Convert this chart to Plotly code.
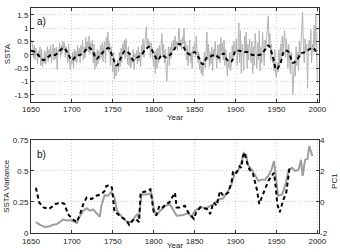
import plotly.graph_objects as go

# ---------- panel a: annual SSTA (1650-2000) ----------
years_a = list(range(1650, 2001))
ssta = [
    0.5, 0.55, 0.3, -0.1, 0.35, -0.2, 0.25, 0.1, -0.35, 0.15,
    -0.1, 0.3, -0.4, 0.2, -0.45, -0.1, -0.3, 0.15, -0.35, 0.05,
    0.3, -0.25, 0.2, -0.1, 0.35, -0.3, 0.1, 0.4, -0.2, 0.25,
    -0.15, 0.3, -0.55, 0.2, 0.1, 0.45, -0.1, 0.35, 0.05, 0.5,
    0.2, 0.45, -0.1, 0.3, 0.15, -0.3, 0.4, -0.45, -0.55, -0.2,
    -0.35, 0.1, -0.5, 0.2, -0.25, 0.15, -0.3, 0.35, 0.0, 0.25,
    -0.3, 0.35, 0.05, 0.55, -0.2, 0.3, -0.1, 0.65, 0.2, 0.5,
    0.1, 0.7, 0.05, 0.45, 0.2, 0.55, -0.3, 0.4, -0.55, 0.1,
    -0.45, 0.2, -0.35, 0.15, -0.2, 0.35, -0.1, 0.45, -0.25, 0.3,
    0.5, -0.3, 0.65, 0.2, 0.85, 0.1, 0.45, -0.4, 0.3, -0.2,
    -0.65, 0.1, -0.9, -0.3, -0.8, -0.5, -0.2, -0.65, 0.1, -0.45,
    0.25, -0.3, 0.4, 0.1, 0.55, -0.15, 0.6, 0.2, -0.35, 0.3,
    -0.4, 0.1, -0.5, -0.15, -0.3, 0.2, -0.55, 0.05, -0.2, 0.15,
    -0.35, 0.3, -0.25, 0.1, -0.45, 0.35, 0.0, 0.6, -0.1, 0.4,
    0.75, 1.05, 0.2, 0.6, 0.3, 0.5, -0.1, 0.45, 0.1, -0.2,
    -0.45, 0.1, -0.7, 0.2, -0.5, 0.25, -0.3, 0.35, -0.15, 0.3,
    0.8, -0.1, 0.4, -0.3, 0.2, -0.5, -1.0, -0.2, 0.3, -0.4,
    0.3, -0.15, 0.45, 0.1, 0.55, 0.2, 0.7, 0.3, 0.5, 0.15,
    0.6, 1.0, 0.3, 0.55, 0.2, 0.65, 0.4, 1.0, 0.25, 0.5,
    -0.2, 0.35, -0.4, 0.25, 0.55, -0.3, 0.1, -0.5, 0.3, 0.2,
    0.45, -0.1, 0.7, 0.2, -0.3, 0.1, -0.55, -0.2, -0.7, -0.4,
    -0.8, -0.3, 0.1, -0.5, 0.2, 0.85, -0.2, 0.4, -0.45, 0.1,
    -0.35, 0.3, -0.6, 0.2, -0.1, 0.5, 0.0, -0.5, 0.35, -0.2,
    0.4, -0.3, 0.65, 0.1, 0.45, -0.2, 0.55, -0.4, 0.2, -0.6,
    -0.8, -0.2, -0.5, 0.1, -0.6, -0.3, 0.35, -0.1, 0.5, 0.3,
    0.1, 0.6, -0.4, 0.3, 1.2, -0.3, 0.9, -0.7, 0.4, 0.2,
    -0.6, 0.7, 0.1, 0.85, -0.5, 0.4, -0.2, 0.6, 0.1, -0.3,
    0.5, -0.7, 0.3, -0.4, 0.8, 0.1, -0.5, 0.45, -0.2, 0.9,
    -0.6, 0.3, -0.3, 0.85, 0.1, -0.4, 0.55, 0.2, 0.6, 1.0,
    1.45, 0.3, 0.8, -0.2, 0.4, -0.3, -0.1, -0.6, 0.2, -0.7,
    -0.85, -0.3, -0.65, 0.2, -0.4, 0.4, -0.2, 0.7, 0.1, 0.5,
    0.9, -0.1, 0.6, 0.3, -0.5, 0.4, -0.2, -0.7, 0.1, -0.4,
    -1.5, -0.6, -0.2, -0.8, 0.3, -0.4, 0.1, -0.6, 0.5, -0.1,
    0.4, 0.9, 1.6, 0.2, -0.3, 0.6, 0.1, 0.4, -1.25, 0.3,
    0.55, 0.2, 0.95, -0.3, 0.4, 0.1, 1.1, 0.3, 1.55, 0.2,
    -0.95,
]

# low-pass filtered SSTA (every 5 years)
years_smooth = list(range(1650, 2001, 5))
ssta_smooth = [
    0.15, 0.1, -0.05, -0.2, -0.1, 0.0, 0.0, 0.15, 0.25, 0.05,
    -0.2, -0.05, 0.0, 0.1, 0.28, 0.15, -0.15, 0.0, 0.15, 0.25,
    -0.1, -0.4, -0.1, 0.15, 0.05, -0.2, -0.1, 0.0, 0.2, 0.3,
    0.05, -0.2, 0.0, -0.1, 0.0, 0.2, 0.4, 0.35, 0.1, 0.0,
    0.1, -0.1, -0.35, -0.1, -0.05, 0.0, -0.1, 0.05, -0.2, -0.25,
    0.15, 0.15, 0.1, 0.1, 0.0, 0.0, 0.0, 0.15, 0.35, 0.0,
    -0.55, -0.3, 0.15, 0.1, -0.3, -0.2, 0.05, 0.1, 0.2, 0.25,
    0.0,
]

# ---------- panel b: running SSTA variance and PC1 ----------
years_var = [1656, 1661, 1667, 1673, 1677, 1681, 1685, 1689, 1694, 1698,
             1702, 1706, 1710, 1714, 1718, 1722, 1726, 1730, 1734, 1736,
             1740, 1744, 1748, 1752, 1755, 1758, 1763, 1767, 1773, 1777,
             1780, 1782, 1785, 1791, 1797, 1800, 1803, 1808, 1814, 1820,
             1828, 1836, 1842, 1846, 1850, 1857, 1863, 1867, 1873, 1879,
             1885, 1891, 1895, 1899, 1903, 1907, 1910, 1913, 1915, 1920,
             1924, 1928, 1932, 1936, 1940, 1944, 1947, 1950, 1952, 1957,
             1961, 1965, 1969, 1973, 1977, 1980, 1982, 1985, 1988, 1990,
             1992, 1994]
ssta_var = [0.087, 0.066, 0.048, 0.055, 0.066, 0.07, 0.087, 0.108, 0.1, 0.105,
            0.095, 0.08, 0.14, 0.18, 0.2, 0.18, 0.19, 0.16, 0.13, 0.22,
            0.305, 0.30, 0.33, 0.29, 0.18, 0.155, 0.115, 0.093, 0.088, 0.13,
            0.15, 0.115, 0.31, 0.31, 0.32, 0.2, 0.14, 0.18, 0.22, 0.23,
            0.14, 0.145, 0.16, 0.13, 0.175, 0.21, 0.2, 0.21, 0.23, 0.27,
            0.28, 0.34, 0.39, 0.485, 0.5, 0.565, 0.645, 0.63, 0.55, 0.51,
            0.47, 0.42, 0.43, 0.43, 0.46, 0.51, 0.58, 0.39, 0.3, 0.31,
            0.39, 0.51, 0.525, 0.5, 0.51, 0.59, 0.46, 0.59, 0.6, 0.70,
            0.66, 0.62]

years_pc1 = [1656, 1660, 1665, 1672, 1680, 1687, 1691, 1695, 1700, 1706,
             1710, 1714, 1718, 1724, 1730, 1736, 1740, 1742, 1746, 1749,
             1752, 1756, 1760, 1764, 1768, 1770, 1774, 1778, 1782, 1784,
             1790, 1796, 1800, 1803, 1807, 1811, 1815, 1819, 1820, 1826,
             1828, 1833, 1838, 1842, 1849, 1852, 1857, 1865, 1869, 1873,
             1877, 1881, 1885, 1891, 1895, 1897, 1901, 1905, 1907, 1909,
             1911, 1913, 1917, 1921, 1926, 1929, 1932, 1936, 1940, 1944,
             1947, 1949, 1951, 1954, 1958, 1962, 1966, 1969]
pc1 = [0.92, -0.03, -0.35, -0.45, -0.13, -0.03, -0.13, -0.77, -1.08, -1.3,
       -0.77, -0.13, 0.29, 0.19, 0.4, 0.5, 0.71, 1.03, 1.08, 0.92,
       -0.66, -0.77, -0.98, -1.08, -1.3, -1.47, -1.2, -1.08, -1.3, 0.61,
       0.67, 0.82, -0.66, -0.87, -0.24, -0.35, -0.13, -0.03, 0.08, 0.6,
       -0.35, -0.35, -0.24, -0.66, -1.08, -0.66, -0.35, -0.45, -0.77, -0.03,
       -0.24, 0.71, 0.4, 0.61, 1.24, 1.99, 1.88, 2.3, 2.2, 2.94,
       3.19, 2.73, 2.09, 1.88, 0.82, -0.13, 0.29, 0.82, 1.35, 1.67,
       1.88, 1.03, -0.13, -0.66, 0.08, 0.61, 2.2, 2.2]

ya_ticks = [-1.5, -1, -0.5, 0, 0.5, 1, 1.5]
ya_labels = ["-1.5", "-1", "-0.5", "0", "0.5", "1", "1.5"]
yb_ticks = [0, 0.25, 0.5, 0.75]
yb_labels = ["0", "0.25", "0.5", "0.75"]
yc_ticks = [-2, 0, 2, 4]
yc_labels = ["-2", "0", "2", "4"]
x_ticks = [1650, 1700, 1750, 1800, 1850, 1900, 1950, 2000]

fig = go.Figure()
fig.add_trace(go.Scatter(x=years_a, y=ssta, mode="lines",
                         line=dict(color="#b2b2b2", width=1), xaxis="x", yaxis="y"))
fig.add_trace(go.Scatter(x=years_smooth, y=ssta_smooth, mode="lines",
                         line=dict(color="black", width=2, dash="4px,3px"),
                         line_shape="spline", xaxis="x", yaxis="y"))
fig.add_trace(go.Scatter(x=years_var, y=ssta_var, mode="lines",
                         line=dict(color="#9e9e9e", width=2), xaxis="x2", yaxis="y2"))
fig.add_trace(go.Scatter(x=years_pc1, y=pc1, mode="lines",
                         line=dict(color="black", width=2, dash="4px,3px"),
                         xaxis="x2", yaxis="y3"))

tickfont = dict(family="Liberation Sans, Arial, sans-serif", size=8, color="#222")
axcommon = dict(showline=True, linecolor="#333", linewidth=1, ticks="inside",
                ticklen=3, tickcolor="#333", tickfont=tickfont,
                showgrid=True, gridcolor="#d0d0d0", griddash="1px,2px", gridwidth=1,
                zeroline=False)

fig.update_layout(
    width=340, height=252, margin=dict(l=31, r=21, t=4, b=19),
    paper_bgcolor="white", plot_bgcolor="white", showlegend=False,
    xaxis=dict(axcommon, domain=[0, 1], range=[1650, 2002], tickvals=x_ticks,
               mirror="allticks", anchor="y"),
    yaxis=dict(axcommon, domain=[0.584, 1], range=[-1.75, 1.75], tickvals=ya_ticks,
               ticktext=ya_labels, mirror="allticks", anchor="x"),
    xaxis2=dict(axcommon, domain=[0, 1], range=[1650, 2002], tickvals=x_ticks,
                mirror=True, anchor="y2"),
    yaxis2=dict(axcommon, domain=[0, 0.4135], range=[0, 0.75], tickvals=yb_ticks,
                ticktext=yb_labels, mirror=True, anchor="x2"),
    yaxis3=dict(axcommon, overlaying="y2", side="right", range=[-2, 4],
                tickvals=yc_ticks, ticktext=yc_labels, showgrid=False,
                anchor="x2", showline=False),
)

lab = dict(family="Liberation Sans, Arial, sans-serif", size=8, color="#222")
ann = [
    dict(text="Year", x=175, y=115),
    dict(text="Year", x=175, y=246),
    dict(text="SSTA", x=7, y=51, textangle=-90),
    dict(text="SSTA Variance", x=7, y=185, textangle=-90),
    dict(text="PC1", x=335, y=180, textangle=-90),
]
W, H = 340, 252
l, r, t, b = 31, 21, 4, 19
pw, ph = W - l - r, H - t - b
for a in ann:
    fig.add_annotation(text=a["text"], x=(a["x"] - l) / pw, y=1 - (a["y"] - t) / ph,
                       xref="paper", yref="paper", showarrow=False, font=lab,
                       textangle=a.get("textangle", 0), xanchor="center", yanchor="middle")
for txt, px, py in [("a)", 41, 18), ("b)", 41, 153)]:
    fig.add_annotation(text=txt, x=(px - l) / pw, y=1 - (py - t) / ph,
                       xref="paper", yref="paper", showarrow=False,
                       font=dict(family="Liberation Sans, Arial, sans-serif", size=10, color="#111"),
                       xanchor="center", yanchor="middle")

fig.write_html("out.html")
